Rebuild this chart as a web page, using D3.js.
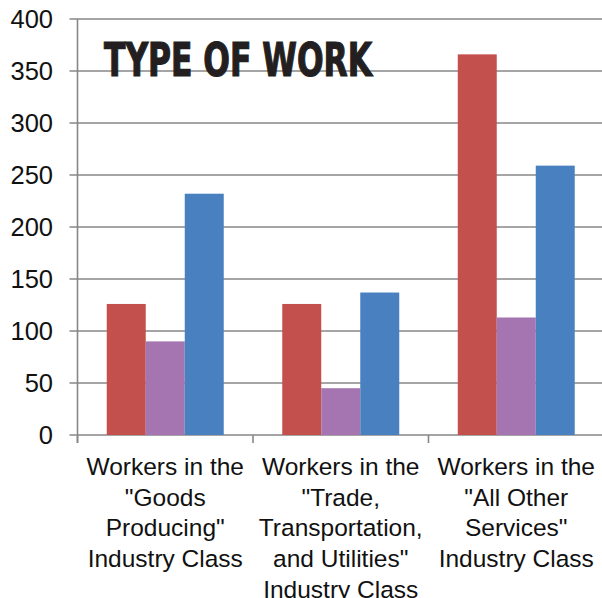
<!DOCTYPE html>
<html><head><meta charset="utf-8">
<script src="https://cdn.jsdelivr.net/npm/d3@7"></script>
<style>html,body{margin:0;padding:0;background:#fff;}svg{display:block;}</style>
</head><body>
<script>
const categories = [
  ["Workers in the", "\"Goods", "Producing\"", "Industry Class"],
  ["Workers in the", "\"Trade,", "Transportation,", "and Utilities\"", "Industry Class"],
  ["Workers in the", "\"All Other", "Services\"", "Industry Class"]
];
const seriesNames = ["Series A", "Series B", "Series C"];
const seriesA = [126, 126, 366];
const seriesB = [90, 45, 113];
const seriesC = [232, 137, 259];
const yTicks = [0, 50, 100, 150, 200, 250, 300, 350, 400];
const colors = ["#C4504E", "#A475B0", "#4981C0"];
const title = "TYPE OF WORK";

const W = 602, H = 598;
const svg = d3.select("body").append("svg").attr("width", W).attr("height", H);

const x0 = d3.scaleBand().domain(d3.range(categories.length)).range([77.5, 604]).paddingInner(0).paddingOuter(0);
const x1 = d3.scaleBand().domain(d3.range(seriesNames.length)).range([0, x0.bandwidth()]).paddingOuter(0.75).paddingInner(0);
const y = d3.scaleLinear().domain([0, 400]).range([435, 19]);

// gridlines
svg.append("g").selectAll("line").data(yTicks).join("line")
  .attr("x1", 69.5).attr("x2", W)
  .attr("y1", d => y(d)).attr("y2", d => y(d))
  .attr("stroke", "#878787").attr("stroke-width", 1.6);

// y axis line
svg.append("line").attr("x1", 77.5).attr("x2", 77.5).attr("y1", y(400)).attr("y2", 443)
  .attr("stroke", "#878787").attr("stroke-width", 1.6);

// category ticks
svg.append("g").selectAll("line").data(d3.range(categories.length + 1)).join("line")
  .attr("x1", d => 77.5 + d * x0.bandwidth()).attr("x2", d => 77.5 + d * x0.bandwidth())
  .attr("y1", 435).attr("y2", 443)
  .attr("stroke", "#878787").attr("stroke-width", 1.6);

// y labels
svg.append("g").selectAll("text").data(yTicks).join("text")
  .attr("x", 53).attr("y", d => y(d)).attr("dy", "0.36em")
  .attr("text-anchor", "end")
  .attr("font-family", "'Liberation Sans', Arial, sans-serif")
  .attr("font-size", 25.5).attr("fill", "#111")
  .text(d => d);

// title
svg.append("text").attr("x", 104).attr("y", 75.5)
  .attr("font-family", "'Liberation Sans Narrow', 'DejaVu Sans Condensed', sans-serif")
  .attr("font-weight", "bold").attr("font-size", 46)
  .attr("textLength", 268).attr("lengthAdjust", "spacingAndGlyphs")
  .attr("fill", "#231f20").attr("stroke", "#231f20").attr("stroke-width", 1.2)
  .text(title);

// bars
const allSeries = [seriesA, seriesB, seriesC];
const g = svg.append("g");
allSeries.forEach((vals, si) => {
  g.selectAll(null).data(vals).join("rect")
    .attr("x", (d, i) => x0(i) + x1(si))
    .attr("width", x1.bandwidth())
    .attr("y", d => y(d))
    .attr("height", d => y(0) - y(d))
    .attr("fill", colors[si]);
});

// category labels
categories.forEach((lines, i) => {
  const t = svg.append("text")
    .attr("text-anchor", "middle")
    .attr("font-family", "'Liberation Sans', Arial, sans-serif")
    .attr("font-size", 24.5).attr("fill", "#111");
  lines.forEach((ln, k) => {
    t.append("tspan").attr("x", x0(i) + x0.bandwidth() / 2).attr("y", 475 + k * 30.7).text(ln);
  });
});
</script>
</body></html>
